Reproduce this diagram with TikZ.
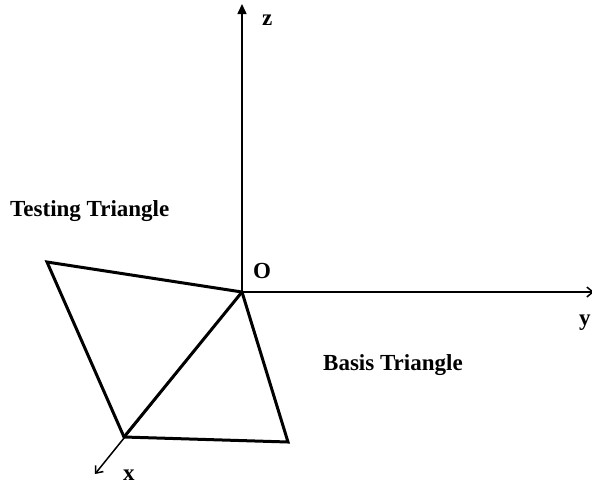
\documentclass[tikz,border=0pt]{standalone}
\usepackage{fontspec}
\setmainfont{Liberation Serif}
\usetikzlibrary{arrows.meta}
\begin{document}
\begin{tikzpicture}[x=1pt,y=-1pt,
  lbl/.style={inner sep=0pt,font=\fontsize{23}{28}\selectfont\bfseries},
  axis/.style={line width=1.5pt},
  tri/.style={line width=3pt,line join=miter}]
\useasboundingbox (0,0) rectangle (592,488);
\coordinate (O) at (242,292);
\coordinate (zt) at (242,4);
\coordinate (yt) at (594,292);
\coordinate (xt) at (95,474);
\coordinate (L) at (47,262);
\coordinate (BL) at (124,437);
\coordinate (BR) at (288,442);
\draw[axis,-{Triangle[length=10pt,width=9pt]}] (O) -- (zt);
\draw[axis,-{Straight Barb[length=6pt,width=10pt]}] (O) -- (yt);
\draw[axis,-{Straight Barb[length=6pt,width=10pt]}] (O) -- (xt);
\draw[tri] (L) -- (O) -- (BR) -- (BL) -- cycle;
\draw[tri] (BL) -- (O);
\node[lbl,anchor=base west] (zl) at (262,25) {z};
\node[lbl,anchor=base west] (yl) at (579,325) {y};
\node[lbl,anchor=base west] (xl) at (123,480) {x};
\node[lbl,anchor=base west] (ol) at (253,278) {O};
\node[lbl,anchor=base west] (tt) at (10,216) {Testing Triangle};
\node[lbl,anchor=base west] (bt) at (323,370) {Basis Triangle};
\end{tikzpicture}
\end{document}
